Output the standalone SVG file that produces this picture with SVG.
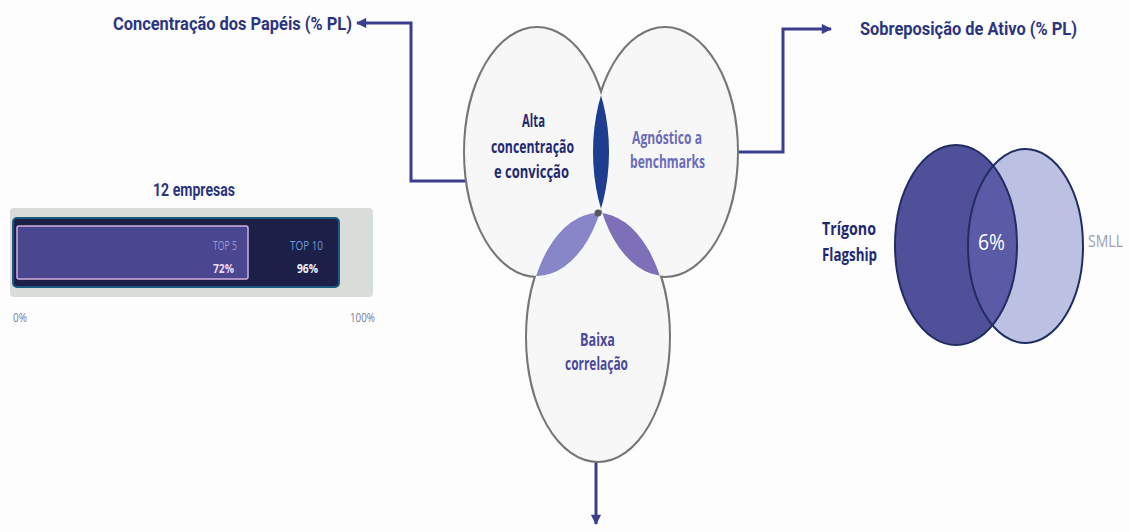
<svg xmlns="http://www.w3.org/2000/svg" width="1130" height="532" viewBox="0 0 1130 532">
  <defs>
    <style>
      .title { font-family: Roboto, "Open Sans", "Liberation Sans", sans-serif; font-weight: 700; font-size: 19px; fill: #2b3580; }
      .lbl { font-family: "Open Sans", "Liberation Sans", sans-serif; font-weight: 700; font-size: 17px; }
      .small { font-family: "Open Sans", "Liberation Sans", sans-serif; font-size: 13px; }
      .conn { fill: none; stroke: #3b3d8e; stroke-width: 3; }
      .outline { fill: none; stroke: #76767a; stroke-width: 4; }
      .body { fill: #f7f7f8; }
    </style>
    <marker id="arrow" viewBox="0 0 10 10" refX="9" refY="5" markerWidth="4" markerHeight="3.4" orient="auto" markerUnits="strokeWidth">
      <path d="M0,0 L10,5 L0,10 Z" fill="#3b3d8e"/>
    </marker>
    <!-- the three trait ellipses -->
    <ellipse id="eL" cx="537" cy="152" rx="72" ry="124"/>
    <ellipse id="eR" cx="665" cy="152" rx="72" ry="124"/>
    <ellipse id="eB" cx="598" cy="337" rx="71" ry="124"/>
    <clipPath id="clipR"><use href="#eR"/></clipPath>
    <clipPath id="clipL"><use href="#eL"/></clipPath>
    <!-- overlap venn -->
    <ellipse id="vD" cx="956" cy="245" rx="61" ry="100"/>
    <ellipse id="vS" cx="1025.5" cy="246" rx="57.5" ry="97"/>
    <clipPath id="clipVD"><use href="#vD"/></clipPath>
  </defs>

  <rect width="1130" height="532" fill="#fdfdfd"/>

  <!-- connectors -->
  <g id="connectors">
    <path class="conn" d="M467,181 H411 V23 H357" marker-end="url(#arrow)"/>
    <path class="conn" d="M737,152 H783 V29 H831" marker-end="url(#arrow)"/>
    <path class="conn" d="M596,461 V524" marker-end="url(#arrow)"/>
  </g>

  <!-- central three-way diagram -->
  <g id="traits">
    <use href="#eL" class="outline"/>
    <use href="#eR" class="outline"/>
    <use href="#eB" class="outline"/>
    <use href="#eL" class="body"/>
    <use href="#eR" class="body"/>
    <use href="#eB" class="body"/>
    <use href="#eL" fill="#1f3d90" clip-path="url(#clipR)"/>
    <use href="#eB" fill="#8686c8" clip-path="url(#clipL)"/>
    <use href="#eB" fill="#7d70b8" clip-path="url(#clipR)"/>
    <circle cx="598" cy="213" r="3.5" fill="#55585c"/>
  </g>

  <g id="node-alta" class="lbl" fill="#1f2a70">
    <text x="522" y="127" textLength="23" lengthAdjust="spacingAndGlyphs">Alta</text>
    <text x="491" y="153" textLength="83" lengthAdjust="spacingAndGlyphs">concentração</text>
    <text x="494" y="178" textLength="75" lengthAdjust="spacingAndGlyphs">e convicção</text>
  </g>
  <g id="node-agnostico" class="lbl" fill="#6c6cb8">
    <text x="632" y="144" textLength="70" lengthAdjust="spacingAndGlyphs">Agnóstico a</text>
    <text x="630" y="168" textLength="75" lengthAdjust="spacingAndGlyphs">benchmarks</text>
  </g>
  <g id="node-baixa" class="lbl" fill="#4b4b9c">
    <text x="580" y="346" textLength="35" lengthAdjust="spacingAndGlyphs">Baixa</text>
    <text x="565" y="370" textLength="63" lengthAdjust="spacingAndGlyphs">correlação</text>
  </g>

  <!-- concentration panel -->
  <g id="concentracao">
    <text class="title" x="113" y="30" textLength="239" lengthAdjust="spacingAndGlyphs">Concentração dos Papéis (% PL)</text>
    <text class="title" x="153" y="196" font-size="17" textLength="82" lengthAdjust="spacingAndGlyphs">12 empresas</text>
    <rect x="10" y="208" width="363" height="89" rx="4" fill="#d9ddd9"/>
    <rect x="13" y="218" width="326" height="69" rx="4" fill="#1c2048" stroke="#1b5a7e" stroke-width="2"/>
    <rect x="17" y="226" width="231" height="53" rx="2" fill="#4a4690" stroke="#d2aedc" stroke-width="1.5"/>
    <text class="small" x="213" y="250" fill="#9a9ad8" textLength="24" lengthAdjust="spacingAndGlyphs">TOP 5</text>
    <text class="small" x="213" y="273" fill="#f0d8f0" font-weight="700" textLength="21" lengthAdjust="spacingAndGlyphs">72%</text>
    <text class="small" x="290" y="250" fill="#6a9ad8" textLength="33" lengthAdjust="spacingAndGlyphs">TOP 10</text>
    <text class="small" x="297" y="273" fill="#f0f0ff" font-weight="700" textLength="21" lengthAdjust="spacingAndGlyphs">96%</text>
    <text class="small" x="13" y="322" fill="#7a7a9a" font-size="12" textLength="14" lengthAdjust="spacingAndGlyphs">0%</text>
    <text class="small" x="350" y="322" fill="#7a7a9a" font-size="12" textLength="25" lengthAdjust="spacingAndGlyphs">100%</text>
  </g>

  <!-- asset overlap panel -->
  <g id="sobreposicao">
    <text class="title" x="860" y="35" textLength="217" lengthAdjust="spacingAndGlyphs">Sobreposição de Ativo (% PL)</text>
    <use href="#vD" fill="#50509a"/>
    <use href="#vS" fill="#bcc0e2"/>
    <use href="#vS" fill="#5a5aa6" clip-path="url(#clipVD)"/>
    <use href="#vD" fill="none" stroke="#1f2d60" stroke-width="2"/>
    <use href="#vS" fill="none" stroke="#1f2d60" stroke-width="2"/>
    <text x="978" y="250" font-family="Open Sans, Liberation Sans, sans-serif" font-size="21" fill="#ffffff" textLength="27" lengthAdjust="spacingAndGlyphs">6%</text>
    <g class="lbl" fill="#1f2a70" font-size="18">
      <text x="822" y="235" textLength="54" lengthAdjust="spacingAndGlyphs">Trígono</text>
      <text x="822" y="261" textLength="55" lengthAdjust="spacingAndGlyphs">Flagship</text>
    </g>
    <text x="1088" y="247" font-family="Open Sans, Liberation Sans, sans-serif" font-size="16" fill="#9aa0b0" textLength="35" lengthAdjust="spacingAndGlyphs">SMLL</text>
  </g>
</svg>
